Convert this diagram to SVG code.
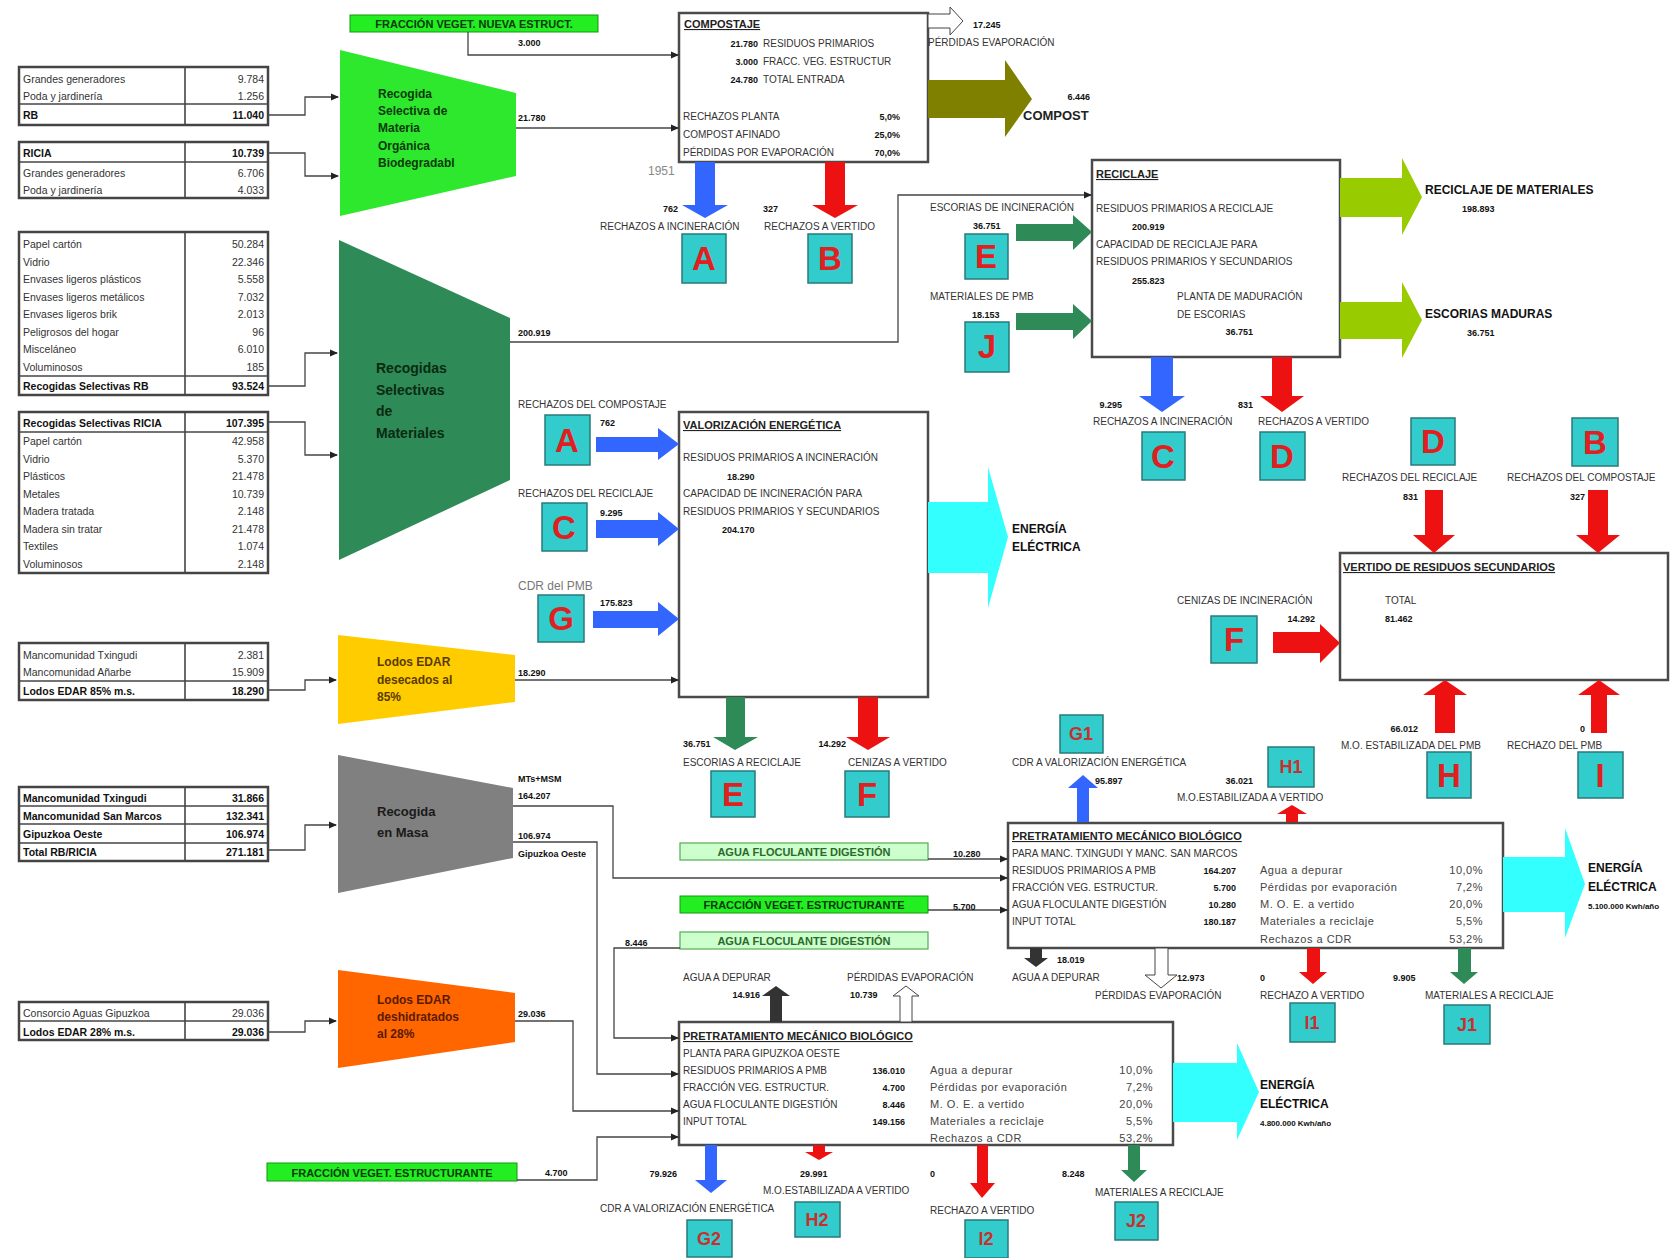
<svg xmlns="http://www.w3.org/2000/svg" width="1675" height="1258" viewBox="0 0 1675 1258">
<style>
text{font-family:"Liberation Sans",Arial,Helvetica,sans-serif}
.s{font-size:10px;fill:#333}
.n{font-size:9px;font-weight:bold;fill:#111}
.e{text-anchor:end}
.m{text-anchor:middle}
.tt{font-size:11px;font-weight:bold;fill:#222;text-decoration:underline}
.tb{font-size:10.5px;fill:#333}
.tbb{font-size:10.5px;font-weight:bold;fill:#111}
.pc{font-size:11px;fill:#444;letter-spacing:0.5px}
.big{font-size:12px;font-weight:bold;fill:#111}
.box{fill:#fff;stroke:#4a4a4a;stroke-width:2.5}
.tab{fill:#fff;stroke:#444;stroke-width:2.5}
.tl{stroke:#444;stroke-width:1.6}
.lt{fill:#33CCCC;stroke:#2a7a7a;stroke-width:1.5}
.L{font-size:33px;font-weight:bold;fill:#E02020;text-anchor:middle}
.Ls{font-size:18px;font-weight:bold;fill:#C83030;text-anchor:middle}
.fl{fill:none;stroke:#444;stroke-width:1.3;marker-end:url(#ah)}
.blue{fill:#3366FF}
.red{fill:#EE1111}
.grn{fill:#2E8B57}
.yg{fill:#99CC00}
.cy{fill:#33FFFF}
.blk{fill:#333}
.hol{fill:#fff;stroke:#444;stroke-width:1}
.gl{fill:#22EE22;stroke:#119911;stroke-width:1}
.lg{fill:#CCFFCC;stroke:#55AA55;stroke-width:1.2}
.gt{font-size:11px;font-weight:bold;fill:#0a3a0a;text-anchor:middle}
</style>
<defs>
<marker id="ah" markerWidth="8" markerHeight="8" refX="7" refY="4" orient="auto" markerUnits="userSpaceOnUse"><path d="M0,0.5 L8,4 L0,7.5z" fill="#222"/></marker>
</defs>
<rect width="1675" height="1258" fill="#fff"/>

<!-- Tables -->
<g id="tabla-rb-organica">
<rect class="tab" x="19" y="67" width="249" height="58"/>
<line class="tl" x1="185" y1="67" x2="185" y2="125"/>
<line class="tl" x1="19" y1="104" x2="268" y2="104"/>
<text class="tb" x="23" y="83">Grandes generadores</text><text class="tb e" x="264" y="83">9.784</text>
<text class="tb" x="23" y="100">Poda y jardinería</text><text class="tb e" x="264" y="100">1.256</text>
<text class="tbb" x="23" y="119">RB</text><text class="tbb e" x="264" y="119">11.040</text>
</g>
<g id="tabla-ricia-organica">
<rect class="tab" x="19" y="142" width="249" height="56"/>
<line class="tl" x1="185" y1="142" x2="185" y2="198"/>
<line class="tl" x1="19" y1="162" x2="268" y2="162"/>
<text class="tbb" x="23" y="157">RICIA</text><text class="tbb e" x="264" y="157">10.739</text>
<text class="tb" x="23" y="177">Grandes generadores</text><text class="tb e" x="264" y="177">6.706</text>
<text class="tb" x="23" y="194">Poda y jardinería</text><text class="tb e" x="264" y="194">4.033</text>
</g>
<g id="tabla-rb-selectivas">
<rect class="tab" x="19" y="232" width="249" height="163"/>
<line class="tl" x1="185" y1="232" x2="185" y2="395"/>
<line class="tl" x1="19" y1="376" x2="268" y2="376"/>
<text class="tb" x="23" y="248">Papel cartón</text><text class="tb e" x="264" y="248">50.284</text>
<text class="tb" x="23" y="266">Vidrio</text><text class="tb e" x="264" y="266">22.346</text>
<text class="tb" x="23" y="283">Envases ligeros plásticos</text><text class="tb e" x="264" y="283">5.558</text>
<text class="tb" x="23" y="301">Envases ligeros metálicos</text><text class="tb e" x="264" y="301">7.032</text>
<text class="tb" x="23" y="318">Envases ligeros brik</text><text class="tb e" x="264" y="318">2.013</text>
<text class="tb" x="23" y="336">Peligrosos del hogar</text><text class="tb e" x="264" y="336">96</text>
<text class="tb" x="23" y="353">Misceláneo</text><text class="tb e" x="264" y="353">6.010</text>
<text class="tb" x="23" y="371">Voluminosos</text><text class="tb e" x="264" y="371">185</text>
<text class="tbb" x="23" y="390">Recogidas Selectivas RB</text><text class="tbb e" x="264" y="390">93.524</text>
</g>
<g id="tabla-ricia-selectivas">
<rect class="tab" x="19" y="412" width="249" height="161"/>
<line class="tl" x1="185" y1="412" x2="185" y2="573"/>
<line class="tl" x1="19" y1="432" x2="268" y2="432"/>
<text class="tbb" x="23" y="427">Recogidas Selectivas RICIA</text><text class="tbb e" x="264" y="427">107.395</text>
<text class="tb" x="23" y="445">Papel cartón</text><text class="tb e" x="264" y="445">42.958</text>
<text class="tb" x="23" y="463">Vidrio</text><text class="tb e" x="264" y="463">5.370</text>
<text class="tb" x="23" y="480">Plásticos</text><text class="tb e" x="264" y="480">21.478</text>
<text class="tb" x="23" y="498">Metales</text><text class="tb e" x="264" y="498">10.739</text>
<text class="tb" x="23" y="515">Madera tratada</text><text class="tb e" x="264" y="515">2.148</text>
<text class="tb" x="23" y="533">Madera sin tratar</text><text class="tb e" x="264" y="533">21.478</text>
<text class="tb" x="23" y="550">Textiles</text><text class="tb e" x="264" y="550">1.074</text>
<text class="tb" x="23" y="568">Voluminosos</text><text class="tb e" x="264" y="568">2.148</text>
</g>
<g id="tabla-lodos-85">
<rect class="tab" x="19" y="643" width="249" height="57"/>
<line class="tl" x1="185" y1="643" x2="185" y2="700"/>
<line class="tl" x1="19" y1="681" x2="268" y2="681"/>
<text class="tb" x="23" y="659">Mancomunidad Txingudi</text><text class="tb e" x="264" y="659">2.381</text>
<text class="tb" x="23" y="676">Mancomunidad Añarbe</text><text class="tb e" x="264" y="676">15.909</text>
<text class="tbb" x="23" y="695">Lodos EDAR 85% m.s.</text><text class="tbb e" x="264" y="695">18.290</text>
</g>
<g id="tabla-masa">
<rect class="tab" x="19" y="787" width="249" height="74"/>
<line class="tl" x1="185" y1="787" x2="185" y2="861"/>
<line class="tl" x1="19" y1="806" x2="268" y2="806"/>
<line class="tl" x1="19" y1="824" x2="268" y2="824"/>
<line class="tl" x1="19" y1="843" x2="268" y2="843"/>
<text class="tbb" x="23" y="802">Mancomunidad Txingudi</text><text class="tbb e" x="264" y="802">31.866</text>
<text class="tbb" x="23" y="820">Mancomunidad San Marcos</text><text class="tbb e" x="264" y="820">132.341</text>
<text class="tbb" x="23" y="838">Gipuzkoa Oeste</text><text class="tbb e" x="264" y="838">106.974</text>
<text class="tbb" x="23" y="856">Total RB/RICIA</text><text class="tbb e" x="264" y="856">271.181</text>
</g>
<g id="tabla-lodos-28">
<rect class="tab" x="19" y="1002" width="249" height="38"/>
<line class="tl" x1="185" y1="1002" x2="185" y2="1040"/>
<line class="tl" x1="19" y1="1021" x2="268" y2="1021"/>
<text class="tb" x="23" y="1017">Consorcio Aguas Gipuzkoa</text><text class="tb e" x="264" y="1017">29.036</text>
<text class="tbb" x="23" y="1036">Lodos EDAR 28% m.s.</text><text class="tbb e" x="264" y="1036">29.036</text>
</g>

<!-- Collection trapezoids -->
<g id="recogida-organica">
<polygon points="340,50 516,93 516,176 340,216" fill="#2EE82E"/>
<text class="big" x="378" y="98" style="fill:#0a3a0a">Recogida</text>
<text class="big" x="378" y="115" style="fill:#0a3a0a">Selectiva de</text>
<text class="big" x="378" y="132" style="fill:#0a3a0a">Materia</text>
<text class="big" x="378" y="150" style="fill:#0a3a0a">Orgánica</text>
<text class="big" x="378" y="167" style="fill:#0a3a0a">Biodegradabl</text>
</g>
<g id="recogidas-selectivas">
<polygon points="339,240 510,318 510,480 339,560" fill="#2E8B57"/>
<text x="376" y="373" style="font-size:14px;font-weight:bold;fill:#0a2a12">Recogidas</text>
<text x="376" y="395" style="font-size:14px;font-weight:bold;fill:#0a2a12">Selectivas</text>
<text x="376" y="416" style="font-size:14px;font-weight:bold;fill:#0a2a12">de</text>
<text x="376" y="438" style="font-size:14px;font-weight:bold;fill:#0a2a12">Materiales</text>
</g>
<g id="lodos-85">
<polygon points="338,635 515,655 515,702 338,724" fill="#FFCC00"/>
<text class="big" x="377" y="666" style="fill:#5a3a00">Lodos EDAR</text>
<text class="big" x="377" y="684" style="fill:#5a3a00">desecados al</text>
<text class="big" x="377" y="701" style="fill:#5a3a00">85%</text>
</g>
<g id="recogida-masa">
<polygon points="338,755 513,788 513,858 338,893" fill="#808080"/>
<text x="377" y="816" style="font-size:13px;font-weight:bold;fill:#1a1a1a">Recogida</text>
<text x="377" y="837" style="font-size:13px;font-weight:bold;fill:#1a1a1a">en Masa</text>
</g>
<g id="lodos-28">
<polygon points="338,970 515,993 515,1042 338,1068" fill="#FF6600"/>
<text class="big" x="377" y="1004" style="fill:#5a1a00">Lodos EDAR</text>
<text class="big" x="377" y="1021" style="fill:#5a1a00">deshidratados</text>
<text class="big" x="377" y="1038" style="fill:#5a1a00">al 28%</text>
</g>

<!-- Input labels -->
<g id="fraccion-nueva">
<rect class="gl" x="350" y="15" width="248" height="17"/>
<text class="gt" x="474" y="28">FRACCIÓN VEGET. NUEVA ESTRUCT.</text>
</g>
<g id="agua-floc-1">
<rect class="lg" x="680" y="843" width="248" height="17"/>
<text class="gt" x="804" y="856" style="fill:#2a6a2a">AGUA FLOCULANTE DIGESTIÓN</text>
</g>
<g id="fraccion-estr-1">
<rect class="gl" x="680" y="896" width="248" height="17"/>
<text class="gt" x="804" y="909">FRACCIÓN VEGET. ESTRUCTURANTE</text>
</g>
<g id="agua-floc-2">
<rect class="lg" x="680" y="932" width="248" height="17"/>
<text class="gt" x="804" y="945" style="fill:#2a6a2a">AGUA FLOCULANTE DIGESTIÓN</text>
</g>
<g id="fraccion-estr-2">
<rect class="gl" x="267" y="1163" width="250" height="18"/>
<text class="gt" x="392" y="1177">FRACCIÓN VEGET. ESTRUCTURANTE</text>
</g>

<!-- Process boxes -->
<g id="compostaje">
<rect class="box" x="679" y="13" width="249" height="149"/>
<text class="tt" x="684" y="28">COMPOSTAJE</text>
<text class="n e" x="758" y="47">21.780</text><text class="s" x="763" y="47">RESIDUOS PRIMARIOS</text>
<text class="n e" x="758" y="65">3.000</text><text class="s" x="763" y="65">FRACC. VEG. ESTRUCTUR</text>
<text class="n e" x="758" y="83">24.780</text><text class="s" x="763" y="83">TOTAL ENTRADA</text>
<text class="s" x="683" y="120">RECHAZOS PLANTA</text><text class="n e" x="900" y="120">5,0%</text>
<text class="s" x="683" y="138">COMPOST AFINADO</text><text class="n e" x="900" y="138">25,0%</text>
<text class="s" x="683" y="156">PÉRDIDAS POR EVAPORACIÓN</text><text class="n e" x="900" y="156">70,0%</text>
</g>
<g id="reciclaje">
<rect class="box" x="1092" y="160" width="248" height="197"/>
<text class="tt" x="1096" y="178">RECICLAJE</text>
<text class="s" x="1096" y="212">RESIDUOS PRIMARIOS A RECICLAJE</text>
<text class="n" x="1132" y="230">200.919</text>
<text class="s" x="1096" y="248">CAPACIDAD DE RECICLAJE PARA</text>
<text class="s" x="1096" y="265">RESIDUOS PRIMARIOS Y SECUNDARIOS</text>
<text class="n" x="1132" y="284">255.823</text>
<text class="s" x="1177" y="300">PLANTA DE MADURACIÓN</text>
<text class="s" x="1177" y="318">DE ESCORIAS</text>
<text class="n e" x="1253" y="335">36.751</text>
</g>
<g id="valorizacion">
<rect class="box" x="679" y="412" width="249" height="285"/>
<text class="tt" x="683" y="429">VALORIZACIÓN ENERGÉTICA</text>
<text class="s" x="683" y="461">RESIDUOS PRIMARIOS A INCINERACIÓN</text>
<text class="n" x="727" y="480">18.290</text>
<text class="s" x="683" y="497">CAPACIDAD DE INCINERACIÓN PARA</text>
<text class="s" x="683" y="515">RESIDUOS PRIMARIOS Y SECUNDARIOS</text>
<text class="n" x="722" y="533">204.170</text>
</g>
<g id="vertido">
<rect class="box" x="1340" y="553" width="328" height="127"/>
<text class="tt" x="1343" y="571">VERTIDO DE RESIDUOS SECUNDARIOS</text>
<text class="s" x="1385" y="604">TOTAL</text>
<text class="n" x="1385" y="622">81.462</text>
</g>
<g id="pmb-1">
<rect class="box" x="1008" y="823" width="495" height="125"/>
<text class="tt" x="1012" y="840">PRETRATAMIENTO MECÁNICO BIOLÓGICO</text>
<text class="s" x="1012" y="857">PARA MANC. TXINGUDI Y MANC. SAN MARCOS</text>
<text class="s" x="1012" y="874">RESIDUOS PRIMARIOS A PMB</text><text class="n e" x="1236" y="874">164.207</text>
<text class="s" x="1012" y="891">FRACCIÓN VEG. ESTRUCTUR.</text><text class="n e" x="1236" y="891">5.700</text>
<text class="s" x="1012" y="908">AGUA FLOCULANTE DIGESTIÓN</text><text class="n e" x="1236" y="908">10.280</text>
<text class="s" x="1012" y="925">INPUT TOTAL</text><text class="n e" x="1236" y="925">180.187</text>
<text class="pc" x="1260" y="874">Agua a depurar</text><text class="pc e" x="1483" y="874">10,0%</text>
<text class="pc" x="1260" y="891">Pérdidas por evaporación</text><text class="pc e" x="1483" y="891">7,2%</text>
<text class="pc" x="1260" y="908">M. O. E. a vertido</text><text class="pc e" x="1483" y="908">20,0%</text>
<text class="pc" x="1260" y="925">Materiales a reciclaje</text><text class="pc e" x="1483" y="925">5,5%</text>
<text class="pc" x="1260" y="943">Rechazos a CDR</text><text class="pc e" x="1483" y="943">53,2%</text>
</g>
<g id="pmb-2">
<rect class="box" x="679" y="1022" width="494" height="123"/>
<text class="tt" x="683" y="1040">PRETRATAMIENTO MECÁNICO BIOLÓGICO</text>
<text class="s" x="683" y="1057">PLANTA PARA GIPUZKOA OESTE</text>
<text class="s" x="683" y="1074">RESIDUOS PRIMARIOS A PMB</text><text class="n e" x="905" y="1074">136.010</text>
<text class="s" x="683" y="1091">FRACCIÓN VEG. ESTRUCTUR.</text><text class="n e" x="905" y="1091">4.700</text>
<text class="s" x="683" y="1108">AGUA FLOCULANTE DIGESTIÓN</text><text class="n e" x="905" y="1108">8.446</text>
<text class="s" x="683" y="1125">INPUT TOTAL</text><text class="n e" x="905" y="1125">149.156</text>
<text class="pc" x="930" y="1074">Agua a depurar</text><text class="pc e" x="1153" y="1074">10,0%</text>
<text class="pc" x="930" y="1091">Pérdidas por evaporación</text><text class="pc e" x="1153" y="1091">7,2%</text>
<text class="pc" x="930" y="1108">M. O. E. a vertido</text><text class="pc e" x="1153" y="1108">20,0%</text>
<text class="pc" x="930" y="1125">Materiales a reciclaje</text><text class="pc e" x="1153" y="1125">5,5%</text>
<text class="pc" x="930" y="1142">Rechazos a CDR</text><text class="pc e" x="1153" y="1142">53,2%</text>
</g>

<!-- Connectors -->
<g id="connectors">
<path class="fl" d="M268,115 H305 V97 H338"/>
<path class="fl" d="M268,153 H305 V176 H338"/>
<path class="fl" d="M268,386 H305 V353 H337"/>
<path class="fl" d="M268,422 H305 V455 H337"/>
<path class="fl" d="M268,690 H305 V680 H336"/>
<path class="fl" d="M268,850 H305 V825 H336"/>
<path class="fl" d="M268,1032 H305 V1021 H336"/>
<path class="fl" d="M468,32 V55 H678"/>
<path class="fl" d="M516,128 H678"/>
<path class="fl" d="M510,342 H898 V195 H1091"/>
<path class="fl" d="M515,680 H678"/>
<path class="fl" d="M513,806 H613 V878 H1007"/>
<path class="fl" d="M513,842 H597 V1074 H678"/>
<path class="fl" d="M515,1021 H573 V1111 H678"/>
<path class="fl" d="M517,1180 H597 V1137 H678"/>
<path class="fl" d="M928,859 H1007"/>
<path class="fl" d="M928,910 H1007"/>
<path class="fl" d="M680,948 H614 V1038 H678"/>
<!-- block arrows -->
<polygon class="blue" points="695,162 715,162 715,205 728,205 705,218 682,205 695,205"/>
<polygon class="red" points="825,162 845,162 845,205 858,205 835,218 812,205 825,205"/>
<polygon points="928,80 1005,80 1005,60 1032,99 1005,137 1005,118 928,118" fill="#7F7F00"/>
<polygon class="hol" points="928,14 950,14 950,7 963,21 950,35 950,28 928,28"/>
<polygon class="grn" points="1016,224 1073,224 1073,215 1092,232 1073,250 1073,241 1016,241"/>
<polygon class="grn" points="1016,313 1073,313 1073,304 1092,321 1073,339 1073,330 1016,330"/>
<polygon class="yg" points="1340,178 1402,178 1402,158 1422,197 1402,235 1402,217 1340,217"/>
<polygon class="yg" points="1340,302 1402,302 1402,282 1422,320 1402,358 1402,339 1340,339"/>
<polygon class="blue" points="1151,357 1173,357 1173,396 1185,396 1162,412 1139,396 1151,396"/>
<polygon class="red" points="1272,357 1292,357 1292,396 1304,396 1282,412 1260,396 1272,396"/>
<polygon class="blue" points="596,437 658,437 658,428 679,444 658,460 658,452 596,452"/>
<polygon class="blue" points="596,520 658,520 658,512 679,529 658,546 658,538 596,538"/>
<polygon class="blue" points="593,611 658,611 658,602 679,619 658,636 658,628 593,628"/>
<polygon class="cy" points="928,502 988,502 988,467 1008,537 988,608 988,573 928,573"/>
<polygon class="grn" points="726,697 745,697 745,737 758,737 735,750 713,737 726,737"/>
<polygon class="red" points="858,697 878,697 878,737 890,737 868,750 846,737 858,737"/>
<polygon class="red" points="1425,490 1443,490 1443,535 1455,535 1434,553 1413,535 1425,535"/>
<polygon class="red" points="1588,490 1608,490 1608,535 1620,535 1598,553 1576,535 1588,535"/>
<polygon class="red" points="1273,632 1320,632 1320,624 1340,643 1320,663 1320,653 1273,653"/>
<polygon class="red" points="1435,733 1455,733 1455,695 1467,695 1445,680 1423,695 1435,695"/>
<polygon class="red" points="1591,733 1607,733 1607,695 1620,695 1599,680 1578,695 1591,695"/>
<polygon class="blue" points="1077,822 1089,822 1089,788 1098,788 1083,775 1068,788 1077,788"/>
<polygon class="red" points="1286,822 1298,822 1298,814 1307,814 1292,805 1277,814 1286,814"/>
<polygon class="blk" points="1030,948 1042,948 1042,958 1048,958 1036,967 1024,958 1030,958"/>
<polygon class="hol" points="1155,948 1168,948 1168,975 1177,975 1161,988 1145,975 1155,975"/>
<polygon class="red" points="1307,948 1320,948 1320,972 1327,972 1313,984 1299,972 1307,972"/>
<polygon class="grn" points="1458,948 1471,948 1471,972 1478,972 1464,984 1450,972 1458,972"/>
<polygon class="cy" points="1503,857 1565,857 1565,828 1585,884 1565,938 1565,912 1503,912"/>
<polygon class="cy" points="1173,1063 1237,1063 1237,1043 1259,1092 1237,1140 1237,1122 1173,1122"/>
<polygon class="blk" points="770,1022 782,1022 782,996 790,996 776,986 762,996 770,996"/>
<polygon class="hol" points="900,1022 912,1022 912,996 919,996 906,986 893,996 900,996"/>
<polygon class="blue" points="705,1145 717,1145 717,1180 727,1180 711,1193 695,1180 705,1180"/>
<polygon class="red" points="813,1145 825,1145 825,1152 833,1152 819,1160 805,1152 813,1152"/>
<polygon class="red" points="977,1145 988,1145 988,1183 995,1183 982,1198 970,1183 977,1183"/>
<polygon class="grn" points="1128,1145 1140,1145 1140,1170 1147,1170 1134,1182 1121,1170 1128,1170"/>
</g>

<!-- Flow labels -->
<g id="labels">
<text class="n" x="518" y="46">3.000</text>
<text class="n" x="518" y="121">21.780</text>
<text class="n" x="973" y="28">17.245</text>
<text class="s" x="928" y="46">PÉRDIDAS EVAPORACIÓN</text>
<text class="n e" x="1090" y="100">6.446</text>
<text x="1023" y="120" style="font-size:13px;font-weight:bold;fill:#222">COMPOST</text>
<text x="648" y="175" style="font-size:12px;fill:#888">1951</text>
<text class="n e" x="678" y="212">762</text>
<text class="s" x="600" y="230">RECHAZOS A INCINERACIÓN</text>
<text class="n e" x="778" y="212">327</text>
<text class="s" x="764" y="230">RECHAZOS A VERTIDO</text>
<text class="n" x="518" y="336">200.919</text>
<text class="s" x="930" y="211">ESCORIAS DE INCINERACIÓN</text>
<text class="n" x="973" y="229">36.751</text>
<text class="s" x="930" y="300">MATERIALES DE PMB</text>
<text class="n" x="972" y="318">18.153</text>
<text class="big" x="1425" y="194">RECICLAJE DE MATERIALES</text>
<text class="n" x="1462" y="212">198.893</text>
<text class="big" x="1425" y="318">ESCORIAS MADURAS</text>
<text class="n" x="1467" y="336">36.751</text>
<text class="n e" x="1122" y="408">9.295</text>
<text class="n e" x="1253" y="408">831</text>
<text class="s" x="1093" y="425">RECHAZOS A INCINERACIÓN</text>
<text class="s" x="1258" y="425">RECHAZOS A VERTIDO</text>
<text class="s" x="518" y="408">RECHAZOS DEL COMPOSTAJE</text>
<text class="n" x="600" y="426">762</text>
<text class="s" x="518" y="497">RECHAZOS DEL RECICLAJE</text>
<text class="n" x="600" y="516">9.295</text>
<text x="518" y="590" style="font-size:12px;fill:#777">CDR del PMB</text>
<text class="n" x="600" y="606">175.823</text>
<text class="n" x="518" y="676">18.290</text>
<text class="big" x="1012" y="533">ENERGÍA</text>
<text class="big" x="1012" y="551">ELÉCTRICA</text>
<text class="n" x="683" y="747">36.751</text>
<text class="s" x="683" y="766">ESCORIAS A RECICLAJE</text>
<text class="n e" x="846" y="747">14.292</text>
<text class="s" x="848" y="766">CENIZAS A VERTIDO</text>
<text class="s" x="1342" y="481">RECHAZOS DEL RECICLAJE</text>
<text class="s" x="1507" y="481">RECHAZOS DEL COMPOSTAJE</text>
<text class="n e" x="1418" y="500">831</text>
<text class="n e" x="1585" y="500">327</text>
<text class="s" x="1177" y="604">CENIZAS DE INCINERACIÓN</text>
<text class="n e" x="1315" y="622">14.292</text>
<text class="n e" x="1418" y="732">66.012</text>
<text class="n" x="1580" y="732">0</text>
<text class="s" x="1341" y="749">M.O. ESTABILIZADA DEL PMB</text>
<text class="s" x="1507" y="749">RECHAZO DEL PMB</text>
<text class="s" x="1012" y="766">CDR A VALORIZACIÓN ENERGÉTICA</text>
<text class="n" x="1095" y="784">95.897</text>
<text class="n e" x="1253" y="784">36.021</text>
<text class="s" x="1177" y="801">M.O.ESTABILIZADA A VERTIDO</text>
<text class="n" x="518" y="782">MTs+MSM</text>
<text class="n" x="518" y="799">164.207</text>
<text class="n" x="518" y="839">106.974</text>
<text class="n" x="518" y="857">Gipuzkoa Oeste</text>
<text class="n" x="953" y="857">10.280</text>
<text class="n" x="953" y="910">5.700</text>
<text class="n" x="625" y="946">8.446</text>
<text class="big" x="1588" y="872">ENERGÍA</text>
<text class="big" x="1588" y="891">ELÉCTRICA</text>
<text class="n" x="1588" y="909" style="font-size:8px">5.100.000 Kwh/año</text>
<text class="n" x="1057" y="963">18.019</text>
<text class="s" x="1012" y="981">AGUA A DEPURAR</text>
<text class="n" x="1177" y="981">12.973</text>
<text class="s" x="1095" y="999">PÉRDIDAS EVAPORACIÓN</text>
<text class="n" x="1260" y="981">0</text>
<text class="s" x="1260" y="999">RECHAZO A VERTIDO</text>
<text class="n" x="1393" y="981">9.905</text>
<text class="s" x="1425" y="999">MATERIALES A RECICLAJE</text>
<text class="s" x="683" y="981">AGUA A DEPURAR</text>
<text class="n e" x="760" y="998">14.916</text>
<text class="s" x="847" y="981">PÉRDIDAS EVAPORACIÓN</text>
<text class="n" x="850" y="998">10.739</text>
<text class="n" x="518" y="1017">29.036</text>
<text class="n" x="545" y="1176">4.700</text>
<text class="big" x="1260" y="1089">ENERGÍA</text>
<text class="big" x="1260" y="1108">ELÉCTRICA</text>
<text class="n" x="1260" y="1126" style="font-size:8px">4.800.000 Kwh/año</text>
<text class="n e" x="677" y="1177">79.926</text>
<text class="s" x="600" y="1212">CDR A VALORIZACIÓN ENERGÉTICA</text>
<text class="n" x="800" y="1177">29.991</text>
<text class="s" x="763" y="1194">M.O.ESTABILIZADA A VERTIDO</text>
<text class="n" x="930" y="1177">0</text>
<text class="s" x="930" y="1214">RECHAZO A VERTIDO</text>
<text class="n" x="1062" y="1177">8.248</text>
<text class="s" x="1095" y="1196">MATERIALES A RECICLAJE</text>
</g>

<!-- Letter boxes -->
<g id="A1"><rect class="lt" x="682" y="234" width="44" height="49"/><text class="L" x="704" y="270">A</text></g>
<g id="B1"><rect class="lt" x="808" y="234" width="44" height="49"/><text class="L" x="830" y="270">B</text></g>
<g id="E1"><rect class="lt" x="965" y="234" width="43" height="45"/><text class="L" x="986" y="268">E</text></g>
<g id="J"><rect class="lt" x="965" y="322" width="44" height="50"/><text class="L" x="987" y="358">J</text></g>
<g id="A2"><rect class="lt" x="545" y="415" width="45" height="50"/><text class="L" x="567" y="452">A</text></g>
<g id="C2"><rect class="lt" x="542" y="503" width="45" height="48"/><text class="L" x="564" y="539">C</text></g>
<g id="G"><rect class="lt" x="538" y="595" width="46" height="47"/><text class="L" x="561" y="630">G</text></g>
<g id="C3"><rect class="lt" x="1142" y="432" width="43" height="48"/><text class="L" x="1163" y="468">C</text></g>
<g id="D3"><rect class="lt" x="1260" y="432" width="45" height="48"/><text class="L" x="1282" y="468">D</text></g>
<g id="D4"><rect class="lt" x="1411" y="418" width="44" height="47"/><text class="L" x="1433" y="453">D</text></g>
<g id="B4"><rect class="lt" x="1572" y="418" width="46" height="48"/><text class="L" x="1595" y="454">B</text></g>
<g id="F4"><rect class="lt" x="1211" y="616" width="46" height="47"/><text class="L" x="1234" y="651">F</text></g>
<g id="E5"><rect class="lt" x="711" y="771" width="44" height="46"/><text class="L" x="733" y="806">E</text></g>
<g id="F5"><rect class="lt" x="845" y="771" width="44" height="46"/><text class="L" x="867" y="806">F</text></g>
<g id="H"><rect class="lt" x="1427" y="752" width="44" height="46"/><text class="L" x="1449" y="787">H</text></g>
<g id="I"><rect class="lt" x="1578" y="752" width="45" height="46"/><text class="L" x="1600" y="787">I</text></g>
<g id="G1"><rect class="lt" x="1060" y="715" width="43" height="38"/><text class="Ls" x="1081" y="740">G1</text></g>
<g id="H1"><rect class="lt" x="1268" y="747" width="46" height="40"/><text class="Ls" x="1291" y="773">H1</text></g>
<g id="I1"><rect class="lt" x="1290" y="1003" width="45" height="39"/><text class="Ls" x="1312" y="1029">I1</text></g>
<g id="J1"><rect class="lt" x="1444" y="1005" width="46" height="39"/><text class="Ls" x="1467" y="1031">J1</text></g>
<g id="G2"><rect class="lt" x="687" y="1220" width="45" height="37"/><text class="Ls" x="709" y="1245">G2</text></g>
<g id="H2"><rect class="lt" x="795" y="1202" width="45" height="35"/><text class="Ls" x="817" y="1226">H2</text></g>
<g id="I2"><rect class="lt" x="965" y="1220" width="43" height="38"/><text class="Ls" x="986" y="1245">I2</text></g>
<g id="J2"><rect class="lt" x="1115" y="1202" width="43" height="38"/><text class="Ls" x="1136" y="1227">J2</text></g>
</svg>
